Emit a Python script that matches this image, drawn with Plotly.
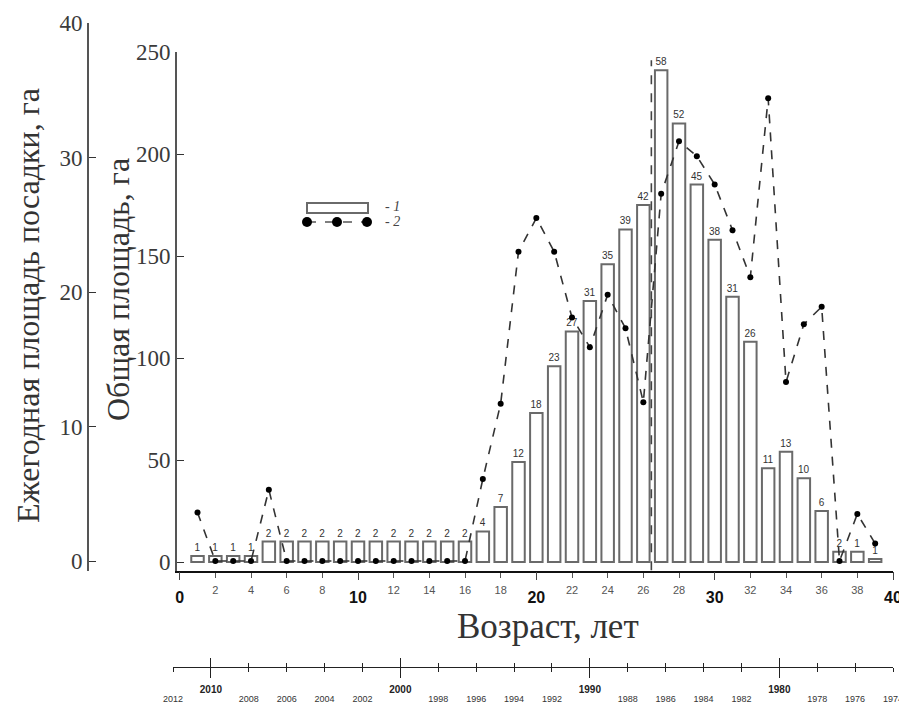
import plotly.graph_objects as go

W, H = 907, 709
OFF = 8  # page offset of the plot div

ages = list(range(1, 40))
total_area = [3, 3, 3, 3, 10, 10, 10, 10, 10, 10, 10, 10, 10, 10, 10, 10,
              15, 27, 49, 73, 96, 113, 128, 146, 163, 175, 241, 215, 185, 158,
              130, 108, 46, 54, 41, 25, 5, 5, 1.5]
bar_labels = [1, 1, 1, 1, 2, 2, 2, 2, 2, 2, 2, 2, 2, 2, 2, 2,
              4, 7, 12, 18, 23, 27, 31, 35, 39, 42, 58, 52, 45, 38,
              31, 26, 11, 13, 10, 6, 2, 1, 1]
annual_area = [3.6, 0, 0, 0, 5.3, 0, 0, 0, 0, 0, 0, 0, 0, 0, 0, 0,
               6.1, 11.7, 23.0, 25.5, 23.0, 18.1, 15.9, 19.8, 17.3, 11.8, 27.3, 31.2, 30.1, 28.0,
               24.6, 21.1, 34.4, 13.3, 17.6, 18.9, 0, 3.5, 1.3]
marker_age = 26.45
marker_top = 246

age_minor_ticks = [a for a in range(2, 40, 2) if a % 10 != 0]
age_major_ticks = [0, 10, 20, 30, 40]
year_minor_ticks = [y for y in range(2012, 1973, -2) if y % 10 != 0]
year_major_ticks = [2010, 2000, 1990, 1980]
year_range = [2012, 1974]


def px(x):
    return (x - OFF) / W


def py(y):
    return (H - (y - OFF)) / H


SERIF = "Liberation Serif"
SANS = "Liberation Sans"

fig = go.Figure()

fig.add_trace(go.Bar(
    x=ages, y=total_area, width=0.7,
    marker=dict(color="white", line=dict(color="#6a6a6a", width=2)),
    text=[str(v) for v in bar_labels], textposition="outside",
    textfont=dict(family=SANS, size=10, color="#333"),
    cliponaxis=False, showlegend=False, hoverinfo="skip",
))

fig.add_trace(go.Scatter(
    x=ages, y=annual_area, mode="lines+markers",
    line=dict(color="#333", width=1.6, dash="dash"),
    marker=dict(color="black", size=6),
    yaxis="y2", showlegend=False, cliponaxis=False,
))

# invisible helper traces so that the extra axes are drawn
for ax in ("x3", "x4", "x6", "x7"):
    fig.add_trace(go.Scatter(x=year_range, y=[-1000, -1000], xaxis=ax, yaxis="y",
                             mode="markers", marker=dict(opacity=0), showlegend=False,
                             hoverinfo="skip"))
fig.add_trace(go.Scatter(x=[0, 40], y=[-1000, -1000], xaxis="x5", yaxis="y",
                         mode="markers", marker=dict(opacity=0), showlegend=False,
                         hoverinfo="skip"))

# vertical dashed marker line
fig.add_shape(type="line", xref="x", yref="y", x0=marker_age, x1=marker_age,
              y0=-4, y1=marker_top, line=dict(color="#444", width=1.6, dash="dash"))

# legend glyphs
fig.add_shape(type="rect", xref="paper", yref="paper",
              x0=px(307), x1=px(368), y0=py(213), y1=py(203),
              line=dict(color="#6a6a6a", width=2), fillcolor="white")
fig.add_shape(type="line", xref="paper", yref="paper",
              x0=px(307), x1=px(368), y0=py(222), y1=py(222),
              line=dict(color="#555", width=1.5, dash="dash"))
for cx in (307, 337, 367):
    fig.add_shape(type="circle", xref="paper", yref="paper",
                  x0=px(cx - 5), x1=px(cx + 5), y0=py(227), y1=py(217),
                  line=dict(color="black", width=0), fillcolor="black")
fig.add_annotation(x=px(383), y=py(206), xref="paper", yref="paper",
                   xanchor="left", yanchor="middle",
                   text="<i>- 1</i>", showarrow=False,
                   font=dict(family=SERIF, size=14, color="#444"))
fig.add_annotation(x=px(383), y=py(222), xref="paper", yref="paper",
                   xanchor="left", yanchor="middle",
                   text="<i>- 2</i>", showarrow=False,
                   font=dict(family=SERIF, size=14, color="#444"))

# titles
fig.add_annotation(x=px(548), y=py(626), xref="paper", yref="paper",
                   xanchor="center", yanchor="middle",
                   text="Возраст, лет", showarrow=False,
                   font=dict(family=SERIF, size=35, color="#333"))
fig.add_annotation(x=px(28), y=py(306), xref="paper", yref="paper",
                   xanchor="center", yanchor="middle",
                   text="Ежегодная площадь посадки, га", showarrow=False, textangle=-90,
                   font=dict(family=SERIF, size=32, color="#333"))
fig.add_annotation(x=px(118), y=py(290), xref="paper", yref="paper",
                   xanchor="center", yanchor="middle",
                   text="Общая площадь, га", showarrow=False, textangle=-90,
                   font=dict(family=SERIF, size=32, color="#333"))

x_dom = [px(177), px(893)]
yr_dom = [px(173), px(893)]
yr_pos = py(667)
common_year = dict(range=year_range, anchor="free", position=yr_pos, automargin=False,
                   showgrid=False, zeroline=False, showline=False, tickcolor="#222")

fig.update_layout(
    template="none",
    width=W, height=H, margin=dict(l=0, r=0, t=0, b=0, pad=0),
    autosize=False, showlegend=False,
    paper_bgcolor="white", plot_bgcolor="rgba(0,0,0,0)",
    xaxis=dict(domain=x_dom, range=[-0.15, 40], anchor="y", automargin=False,
               showgrid=False, zeroline=False, showline=True, linecolor="#111", linewidth=1.5,
               tickmode="array", tickvals=age_minor_ticks, ticktext=[str(a) for a in age_minor_ticks],
               ticks="outside", ticklen=5, tickcolor="#555",
               ticklabelstandoff=3,
               tickfont=dict(family=SANS, size=11, color="#555")),
    xaxis5=dict(overlaying="x", anchor="y", side="bottom", range=[-0.15, 40], automargin=False,
                showgrid=False, zeroline=False, showline=False,
                tickmode="array", tickvals=age_major_ticks, ticktext=["<b>%d</b>" % a for a in age_major_ticks],
                ticks="outside", ticklen=8, tickcolor="#444",
                ticklabelstandoff=4,
                tickfont=dict(family=SANS, size=16, color="#111")),
    yaxis=dict(domain=[py(571), py(52)], range=[-4.41, 250], anchor="x", automargin=False,
               showgrid=False, zeroline=False, showline=True, linecolor="#555", linewidth=2,
               tickmode="array", tickvals=[0, 50, 100, 150, 200, 250],
               ticks="inside", ticklen=7, tickcolor="#333",
               tickfont=dict(family=SERIF, size=23, color="#3a3a3a")),
    yaxis2=dict(domain=[py(571), py(23)], range=[-0.743, 40], anchor="free", position=px(88),
                automargin=False,
                showgrid=False, zeroline=False, showline=True, linecolor="#555", linewidth=2,
                tickmode="array", tickvals=[0, 10, 20, 30, 40],
                ticks="inside", ticklen=7, tickcolor="#333",
                tickfont=dict(family=SERIF, size=23, color="#3a3a3a")),
    xaxis3=dict(common_year, domain=yr_dom, showline=True, linecolor="#222", linewidth=1.2,
                tickmode="array", tickvals=year_minor_ticks, ticktext=[str(y) for y in year_minor_ticks],
                ticks="outside", ticklen=4,
                ticklabelstandoff=19,
                tickfont=dict(family=SANS, size=9, color="#333")),
    xaxis4=dict(common_year, overlaying="x3",
                tickmode="array", tickvals=year_major_ticks, ticktext=["<b>%d</b>" % y for y in year_major_ticks],
                ticks="outside", ticklen=10,
                ticklabelstandoff=3,
                tickfont=dict(family=SANS, size=10, color="#222")),
    xaxis6=dict(common_year, overlaying="x3",
                tickmode="array", tickvals=year_minor_ticks, showticklabels=False,
                ticks="inside", ticklen=4),
    xaxis7=dict(common_year, overlaying="x3",
                tickmode="array", tickvals=year_major_ticks, showticklabels=False,
                ticks="inside", ticklen=9),
)

fig.write_html("out.html")
